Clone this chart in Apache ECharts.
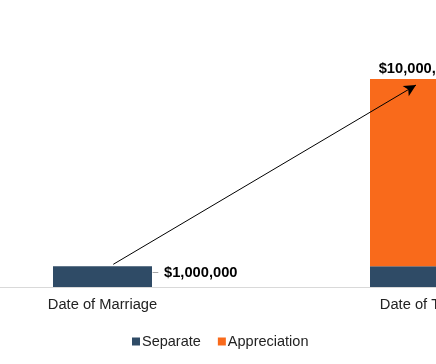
<!DOCTYPE html>
<html><head><meta charset="utf-8">
<script src="https://cdn.jsdelivr.net/npm/echarts@6/dist/echarts.min.js"></script>
<style>html,body{margin:0;padding:0;background:#fff;overflow:hidden;width:436px;height:364px;position:relative}#c{position:absolute;left:-56px;top:0;width:634px;height:364px}</style>
</head><body><div id="c"></div>
<script>
const categories = ['Date of Marriage', 'Date of Trial'];
const separate = [1000000, 1000000];
const appreciation = [null, 9000000];
const totals = [1000000, 10000000];
const arrowStart = [0.034, 1090000];
const arrowEnd = [0.989, 9710000];
const leaderStart = [0.158, 700000];
const leaderEnd = [0.176, 700000];

const fmt = v => '$' + v.toLocaleString('en-US');
const chart = echarts.init(document.getElementById('c'));
chart.setOption({
  animation: false,
  grid: { left: 0, right: 0, top: 37.4, bottom: 77 },
  legend: {
    left: 183, top: 329, icon: 'rect', itemWidth: 8, itemHeight: 8, itemGap: 17,
    textStyle: { fontFamily: 'Liberation Sans, Arial', fontSize: 14.5, color: '#222', padding: [0,0,0,-3] },
    data: ['Separate', 'Appreciation']
  },
  xAxis: [{
    type: 'category', data: categories,
    axisLine: { lineStyle: { color: '#D9D9D9', width: 1 } },
    axisTick: { show: false },
    axisLabel: { fontFamily: 'Liberation Sans, Arial', fontSize: 14.7, color: '#222', margin: 10 }
  }, {
    type: 'value', min: -0.5, max: 1.5, show: false
  }],
  yAxis: { type: 'value', min: 0, max: 12000000, show: false },
  series: [{
    name: 'Separate', type: 'bar', stack: 's', barWidth: 99,
    itemStyle: { color: '#2F4B66' },
    data: separate.map((v, i) => ({
      value: v,
      label: i === 0 ? {
        show: true, position: 'right', distance: 12, offset: [0, -4],
        formatter: () => fmt(totals[0]),
        fontFamily: 'Liberation Sans, Arial', fontSize: 14.7, fontWeight: 'bold', color: '#000'
      } : { show: false }
    }))
  }, {
    name: 'Appreciation', type: 'bar', stack: 's', barWidth: 99,
    itemStyle: { color: '#F96A1B' },
    data: appreciation.map((v, i) => ({
      value: v,
      label: i === 1 ? {
        show: true, position: 'top', distance: 3,
        formatter: () => fmt(totals[1]),
        fontFamily: 'Liberation Sans, Arial', fontSize: 14.7, fontWeight: 'bold', color: '#000'
      } : { show: false }
    }))
  }, {
    name: 'arrow', type: 'line', xAxisIndex: 1, data: [arrowStart, arrowEnd],
    showSymbol: false, lineStyle: { opacity: 0 }, silent: true,
    markLine: {
      silent: true, symbol: ['none', 'arrow'], symbolSize: [9, 12],
      lineStyle: { color: '#000', width: 1, type: 'solid' },
      label: { show: false },
      data: [[{ coord: arrowStart }, { coord: arrowEnd }]]
    }
  }, {
    name: 'leader', type: 'line', xAxisIndex: 1, silent: true, showSymbol: false,
    lineStyle: { opacity: 0 }, data: [leaderStart, leaderEnd],
    markLine: {
      silent: true, symbol: ['none', 'none'],
      lineStyle: { color: '#A6A6A6', width: 1, type: 'solid' },
      label: { show: false },
      data: [[{ coord: leaderStart }, { coord: leaderEnd }]]
    }
  }]
});
</script></body></html>
